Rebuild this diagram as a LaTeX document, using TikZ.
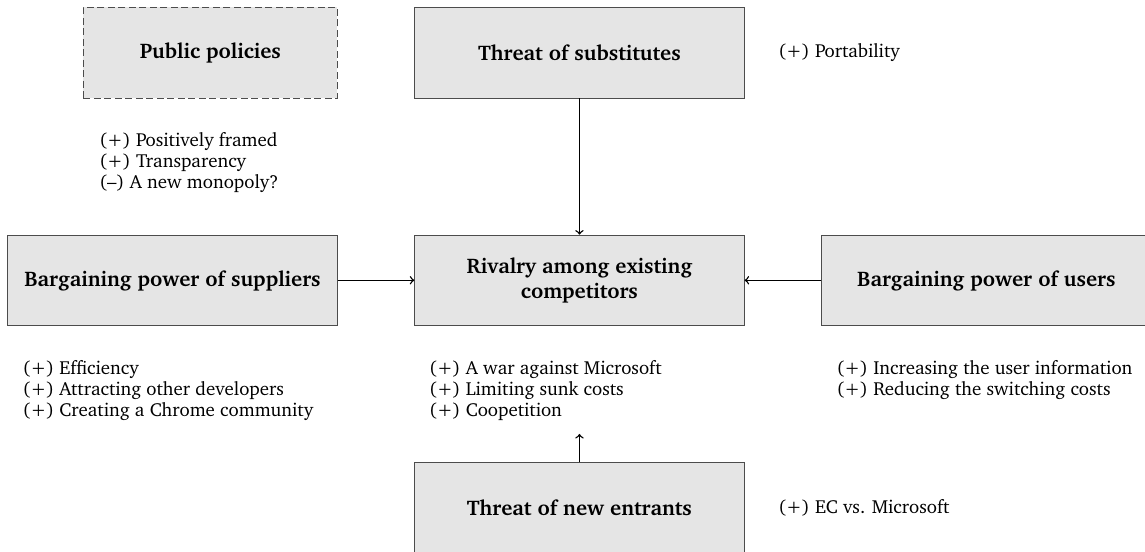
\documentclass[tikz,border=0pt]{standalone}
\usepackage[T1]{fontenc}
\usepackage{charter}
\usetikzlibrary{positioning}

\begin{document}
\begin{tikzpicture}[node distance=2.74cm and 1.54cm,
	force/.style={draw=black!70, fill=gray!20, minimum width=6.62cm, minimum height=1.82cm, font=\fontsize{12.1}{14.8}\selectfont\bfseries, align=center, inner sep=0pt},
	policy/.style={force, dash pattern=on 4pt off 2pt, minimum width=5.1cm},
	factors/.style={align=left, inner sep=0pt, font=\fontsize{10.8}{12.1}\selectfont},
	link/.style={->, line width=0.8pt}]
	\useasboundingbox (-11.64,-5.45) rectangle (11.36,5.63);
	\node[force] (riv) {Rivalry among existing\\competitors};
	\node[force, above=of riv] (subs) {Threat of substitutes};
	\node[force, below=of riv] (entr) {Threat of new entrants};
	\node[force, left=of riv] (sup) {Bargaining power of suppliers};
	\node[force, right=of riv] (usr) {Bargaining power of users};
	\node[policy, left=of subs] (pub) {Public policies};
	\node[factors, below right=0.68cm and 0.32cm of pub.south west] (pubf) {(+) Positively framed\\(+) Transparency\\(--) A new monopoly?};
	\node[factors, below right=0.68cm and 0.3cm of sup.south west] (supf) {(+) Efficiency\\(+) Attracting other developers\\(+) Creating a Chrome community};
	\node[factors, below right=0.68cm and 0.29cm of riv.south west] (rivf) {(+) A war against Microsoft\\(+) Limiting sunk costs\\(+) Coopetition};
	\node[factors, below right=0.68cm and 0.3cm of usr.south west] (usrf) {(+) Increasing the user information\\(+) Reducing the switching costs};
	\node[factors, right=0.67cm of subs] (subsf) {(+) Portability};
	\node[factors, right=0.67cm of entr] (entrf) {(+) EC vs. Microsoft};
	\coordinate[above=0.57cm of entr] (entrtip);
	\draw[link] (subs) -- (riv);
	\draw[link] (sup) -- (riv);
	\draw[link] (usr) -- (riv);
	\draw[link] (entr) -- (entrtip);
\end{tikzpicture}
\end{document}
